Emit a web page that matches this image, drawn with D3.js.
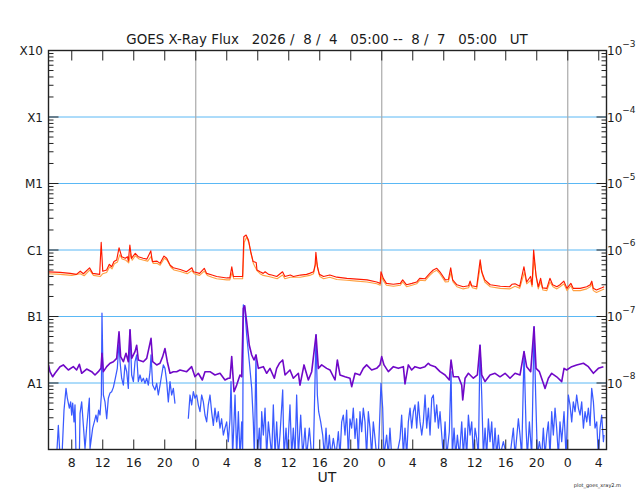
<!DOCTYPE html>
<html>
<head>
<meta charset="utf-8">
<script src="https://cdn.jsdelivr.net/npm/d3@7"></script>
<style>
    body { margin: 0; background: #fff; }
    text { font-family: "DejaVu Sans", Verdana, sans-serif; fill: #1a1a1a; }
</style>
</head>
<body>
<svg width="640" height="500"></svg>
<script>
// [hours since 2026-08-04 05:00 UT, flux W/m2]
var longPrimary = [[0.0,4.7e-7],[1.5,4.6e-7],[2.8,4.45e-7],[3.6,4.3e-7],[4.1,4.8e-7],[4.5,4.4e-7],[5.3,5.4e-7],[5.7,4.45e-7],[6.6,4.3e-7],[6.8,1.3e-6],[7.0,4.8e-7],[7.5,5.0e-7],[7.85,6.1e-7],[8.15,5.6e-7],[8.45,6.7e-7],[8.8,7.1e-7],[9.1,1.08e-6],[9.45,7.9e-7],[9.9,7.5e-7],[10.2,7.9e-7],[10.3,6.8e-7],[10.5,1.19e-6],[10.7,7.5e-7],[11.2,8.9e-7],[11.6,7.9e-7],[12.2,7.5e-7],[12.7,7.3e-7],[13.2,9.7e-7],[13.4,6.7e-7],[14.0,6.8e-7],[14.4,6.3e-7],[14.9,8.1e-7],[15.25,7.5e-7],[15.7,5.9e-7],[16.1,5.4e-7],[17.0,5.1e-7],[17.8,4.7e-7],[18.5,5.4e-7],[18.7,4.7e-7],[19.5,4.45e-7],[20.1,5.3e-7],[20.4,4.45e-7],[21.1,4.2e-7],[21.7,4.0e-7],[23.0,3.8e-7],[23.4,3.8e-7],[23.65,5.6e-7],[23.85,4.0e-7],[24.7,4.0e-7],[25.05,4.0e-7],[25.2,1.58e-6],[25.5,1.68e-6],[25.8,1.41e-6],[26.1,9.4e-7],[26.4,6.7e-7],[26.8,6.5e-7],[26.9,5.0e-7],[27.3,4.7e-7],[27.7,4.45e-7],[27.95,4.7e-7],[28.4,4.3e-7],[28.8,4.2e-7],[29.45,4.0e-7],[30.2,4.7e-7],[30.5,4.0e-7],[31.2,4.2e-7],[31.6,4.0e-7],[32.5,4.2e-7],[33.3,4.3e-7],[33.7,4.45e-7],[34.2,4.7e-7],[34.4,5.9e-7],[34.5,9.2e-7],[34.7,5.6e-7],[34.95,4.3e-7],[35.5,4.0e-7],[36.3,4.2e-7],[37.2,3.9e-7],[38.5,3.75e-7],[39.8,3.65e-7],[41.1,3.55e-7],[42.35,3.3e-7],[42.8,3.15e-7],[42.9,4.7e-7],[43.2,3.75e-7],[43.6,3.15e-7],[44.5,3.05e-7],[45.4,3.15e-7],[45.7,3.55e-7],[46.2,3.0e-7],[46.9,3.15e-7],[47.5,3.3e-7],[47.9,3.75e-7],[48.6,3.7e-7],[49.2,4.45e-7],[49.65,5.0e-7],[50.1,5.3e-7],[50.5,4.7e-7],[51.2,3.55e-7],[51.6,3.6e-7],[51.9,5.4e-7],[52.15,3.55e-7],[52.7,3.0e-7],[53.5,2.8e-7],[54.2,2.9e-7],[54.4,3.4e-7],[54.6,2.9e-7],[55.25,2.8e-7],[55.7,7.1e-7],[55.9,4.7e-7],[56.3,3.55e-7],[57.0,3.0e-7],[58.3,2.85e-7],[59.5,2.8e-7],[59.8,3.05e-7],[60.2,3.1e-7],[60.8,2.85e-7],[61.35,5.6e-7],[61.7,3.3e-7],[62.2,4.0e-7],[62.4,3.0e-7],[62.6,1.0e-6],[62.9,4.2e-7],[63.2,2.8e-7],[63.5,3.75e-7],[63.75,2.7e-7],[64.3,2.65e-7],[64.7,3.75e-7],[65.05,3.0e-7],[65.6,2.8e-7],[66.0,3.0e-7],[66.5,3.4e-7],[66.9,2.65e-7],[67.4,3.15e-7],[67.7,2.65e-7],[68.6,2.65e-7],[69.45,2.8e-7],[69.9,3.0e-7],[70.1,3.4e-7],[70.3,2.65e-7],[70.7,2.5e-7],[71.4,2.7e-7],[71.7,2.8e-7]];

var longSecondary = [[0.0,4.4e-7],[1.5,4.3e-7],[3.0,4.15e-7],[4.1,4.4e-7],[4.6,4.1e-7],[5.3,5.0e-7],[5.8,4.15e-7],[6.7,4.0e-7],[7.0,4.4e-7],[7.5,4.6e-7],[7.9,5.6e-7],[8.2,5.2e-7],[8.5,6.2e-7],[8.9,6.6e-7],[9.2,8.5e-7],[9.5,7.3e-7],[10.0,7.0e-7],[10.35,6.4e-7],[10.6,8.8e-7],[10.8,7.0e-7],[11.2,8.2e-7],[11.7,7.3e-7],[12.3,7.0e-7],[12.8,6.8e-7],[13.25,8.0e-7],[13.5,6.3e-7],[14.0,6.3e-7],[14.4,5.9e-7],[14.95,7.5e-7],[15.3,7.0e-7],[15.8,5.5e-7],[16.2,5.0e-7],[17.0,4.75e-7],[17.9,4.4e-7],[18.5,4.9e-7],[18.8,4.4e-7],[19.5,4.15e-7],[20.1,4.8e-7],[20.5,4.15e-7],[21.1,3.9e-7],[21.7,3.7e-7],[23.0,3.55e-7],[23.4,3.55e-7],[23.7,4.6e-7],[23.9,3.7e-7],[25.05,3.7e-7],[25.25,1.3e-6],[25.55,1.55e-6],[25.85,1.3e-6],[26.15,8.6e-7],[26.45,6.2e-7],[26.9,4.9e-7],[27.3,4.4e-7],[27.7,4.15e-7],[28.4,4.0e-7],[28.8,3.9e-7],[29.5,3.7e-7],[30.2,4.2e-7],[30.5,3.7e-7],[31.2,3.9e-7],[32.5,3.9e-7],[33.7,4.15e-7],[34.2,4.4e-7],[34.55,7.0e-7],[34.8,4.9e-7],[35.0,4.0e-7],[35.5,3.7e-7],[36.3,3.9e-7],[37.2,3.6e-7],[38.5,3.5e-7],[39.8,3.4e-7],[41.1,3.3e-7],[42.35,3.1e-7],[42.8,2.95e-7],[42.95,4.0e-7],[43.3,3.3e-7],[43.6,2.95e-7],[44.5,2.85e-7],[45.4,2.95e-7],[45.7,3.3e-7],[46.2,2.8e-7],[46.9,2.95e-7],[47.5,3.1e-7],[47.9,3.5e-7],[48.6,3.45e-7],[49.2,4.15e-7],[49.65,4.65e-7],[50.1,4.95e-7],[50.5,4.4e-7],[51.2,3.3e-7],[51.6,3.35e-7],[51.95,4.6e-7],[52.2,3.3e-7],[52.7,2.8e-7],[53.5,2.6e-7],[54.2,2.7e-7],[54.45,3.1e-7],[54.7,2.7e-7],[55.25,2.6e-7],[55.75,6.0e-7],[56.0,4.2e-7],[56.3,3.3e-7],[57.0,2.8e-7],[58.3,2.65e-7],[59.5,2.6e-7],[60.2,2.85e-7],[60.8,2.65e-7],[61.4,4.6e-7],[61.7,3.1e-7],[62.2,3.5e-7],[62.4,2.8e-7],[62.65,7.5e-7],[62.95,3.8e-7],[63.2,2.6e-7],[63.5,3.3e-7],[63.8,2.5e-7],[64.3,2.45e-7],[64.7,3.3e-7],[65.1,2.8e-7],[65.6,2.6e-7],[66.0,2.8e-7],[66.5,3.1e-7],[66.9,2.45e-7],[67.4,2.9e-7],[67.7,2.45e-7],[68.6,2.45e-7],[69.45,2.6e-7],[69.9,2.8e-7],[70.1,3.1e-7],[70.3,2.45e-7],[70.7,2.3e-7],[71.4,2.5e-7],[71.7,2.6e-7]];

var shortPrimary = [[0.0,1.87e-8],[0.19,1.48e-8],[0.54,1.24e-8],[0.84,1.4e-8],[1.48,1.76e-8],[1.91,1.87e-8],[2.56,1.57e-8],[3.2,1.76e-8],[3.63,1.57e-8],[3.98,1.91e-8],[4.28,1.4e-8],[4.92,1.62e-8],[5.57,1.48e-8],[6.0,1.32e-8],[6.43,1.48e-8],[6.77,1.66e-8],[6.9,2.8e-8],[7.08,1.48e-8],[7.51,1.76e-8],[7.94,1.98e-8],[8.37,2.09e-8],[8.8,2.35e-8],[9.1,5.9e-8],[9.31,2.49e-8],[9.66,2.09e-8],[10.0,2.8e-8],[10.3,2.09e-8],[10.52,6.3e-8],[10.73,2.35e-8],[11.16,2.96e-8],[11.38,3.7e-8],[11.59,2.22e-8],[12.24,2.09e-8],[12.67,2.35e-8],[13.23,4.7e-8],[13.44,2.09e-8],[13.96,1.87e-8],[14.39,1.98e-8],[14.73,2.49e-8],[15.03,3.3e-8],[15.33,2.09e-8],[15.68,1.4e-8],[16.11,1.48e-8],[16.54,1.48e-8],[16.97,1.57e-8],[17.83,1.48e-8],[18.47,1.76e-8],[18.9,1.24e-8],[19.33,1.4e-8],[19.85,1.11e-8],[20.19,1.48e-8],[20.84,1.48e-8],[21.48,1.32e-8],[22.13,1.4e-8],[22.77,1.11e-8],[23.2,1.18e-8],[23.42,1.18e-8],[23.64,2.49e-8],[23.94,0.74e-8],[24.28,0.93e-8],[24.71,1.32e-8],[24.93,1.24e-8],[25.14,1.33e-7],[25.31,1.45e-7],[25.57,8.3e-8],[25.91,3.7e-8],[26.22,2.64e-8],[26.52,2.22e-8],[26.77,2.64e-8],[27.08,1.66e-8],[27.72,1.76e-8],[28.15,1.4e-8],[28.58,1.66e-8],[29.14,1.18e-8],[29.44,1.66e-8],[29.79,1.98e-8],[30.22,2.22e-8],[30.52,1.32e-8],[31.16,1.57e-8],[31.59,1.18e-8],[32.24,1.4e-8],[32.45,0.93e-8],[32.97,1.87e-8],[33.53,1.11e-8],[33.96,1.48e-8],[34.52,5.3e-8],[34.82,1.66e-8],[35.25,1.87e-8],[35.89,1.66e-8],[36.32,1.57e-8],[36.97,1.11e-8],[37.27,2.22e-8],[37.61,1.32e-8],[38.26,1.24e-8],[38.9,1.18e-8],[39.12,0.88e-8],[39.55,1.4e-8],[40.19,1.32e-8],[40.62,1.66e-8],[41.05,1.87e-8],[41.7,1.57e-8],[42.34,1.66e-8],[42.77,1.87e-8],[42.99,2.49e-8],[43.29,1.87e-8],[43.85,1.48e-8],[44.5,1.76e-8],[45.14,1.66e-8],[45.79,1.76e-8],[46.0,0.97e-8],[46.43,1.87e-8],[46.86,1.57e-8],[47.29,1.76e-8],[47.94,1.66e-8],[48.58,1.76e-8],[49.01,1.98e-8],[49.23,1.87e-8],[49.88,1.76e-8],[50.52,1.48e-8],[51.17,1.32e-8],[51.72,1.11e-8],[51.94,2.22e-8],[52.24,1.24e-8],[52.89,1.24e-8],[53.32,0.93e-8],[53.45,0.555e-8],[53.75,1.18e-8],[54.18,1.4e-8],[54.82,1.18e-8],[55.34,1.32e-8],[55.68,3.7e-8],[55.9,1.32e-8],[56.33,1.05e-8],[56.97,1.32e-8],[57.62,1.4e-8],[58.26,1.24e-8],[58.91,1.4e-8],[59.55,1.18e-8],[60.2,1.4e-8],[60.84,1.32e-8],[61.36,2.96e-8],[61.7,1.76e-8],[62.22,1.48e-8],[62.65,7.0e-8],[62.91,1.66e-8],[63.34,1.48e-8],[63.77,1.05e-8],[64.07,0.83e-8],[64.5,1.18e-8],[64.93,1.4e-8],[65.57,1.24e-8],[66.22,1.05e-8],[66.52,1.66e-8],[66.86,1.57e-8],[67.51,1.76e-8],[68.15,1.87e-8],[69.02,1.98e-8],[69.66,1.76e-8],[70.31,1.4e-8],[70.95,1.66e-8],[71.6,1.76e-8]];

// null marks the data gap
var shortSecondary = [[0.0,8e-10],[1.05,8e-10],[1.27,2.3e-9],[1.48,8e-10],[1.74,8e-10],[2.0,3.9e-9],[2.26,8.3e-9],[2.43,5.9e-9],[2.69,4.2e-9],[2.86,5.2e-9],[2.99,3.3e-9],[3.12,5.0e-9],[3.29,2.6e-9],[3.42,4.7e-9],[3.55,8e-10],[3.98,8e-10],[4.07,3.5e-9],[4.28,5.2e-9],[4.5,2.3e-9],[4.71,1.04e-9],[4.92,2.1e-9],[5.27,5.9e-9],[5.36,1.04e-9],[5.7,2.1e-9],[5.91,2.6e-9],[6.13,3.3e-9],[6.3,2.6e-9],[6.47,3.9e-9],[6.65,3.3e-9],[6.82,6.6e-9],[6.9,1.12e-7],[7.08,6.6e-9],[7.29,5.2e-9],[7.51,2.9e-9],[7.72,5.9e-9],[7.94,7.1e-9],[8.15,7.4e-9],[8.37,8.6e-9],[8.58,1.11e-8],[8.88,1.66e-8],[9.1,4.2e-8],[9.23,2.09e-8],[9.44,1.18e-8],[9.66,9.3e-9],[9.87,1.87e-8],[10.09,1.48e-8],[10.3,8.3e-9],[10.52,6.3e-8],[10.73,1.32e-8],[10.95,1.05e-8],[11.16,2.09e-8],[11.38,2.64e-8],[11.59,1.05e-8],[11.81,1.32e-8],[12.02,1.05e-8],[12.24,1.18e-8],[12.45,9.9e-9],[12.67,1.18e-8],[12.88,9.3e-9],[13.1,1.48e-8],[13.23,2.64e-8],[13.44,9.3e-9],[13.74,7.85e-9],[13.96,9.9e-9],[14.17,6.6e-9],[14.39,9.3e-9],[14.6,1.32e-8],[14.82,1.87e-8],[15.03,1.66e-8],[15.25,1.05e-8],[15.46,5.2e-9],[15.68,1.05e-8],[15.89,6.6e-9],[16.11,8.3e-9],[16.32,4.9e-9],[17.2,null],[18.04,2.9e-9],[18.26,6.6e-9],[18.47,4.7e-9],[18.69,7.4e-9],[18.9,5.9e-9],[19.12,6.6e-9],[19.33,4.7e-9],[19.55,3.7e-9],[19.76,6.6e-9],[19.98,5.2e-9],[20.19,3.3e-9],[20.41,2.6e-9],[20.62,4.7e-9],[20.84,6.6e-9],[21.05,3.7e-9],[21.27,2.3e-9],[21.48,4.2e-9],[21.7,2.6e-9],[21.91,3.7e-9],[22.13,2.1e-9],[22.34,2.9e-9],[22.56,1.65e-9],[22.77,2.1e-9],[22.99,2.6e-9],[23.2,1.31e-9],[23.42,2.9e-9],[23.55,1.05e-8],[23.76,8e-10],[24.07,6.6e-9],[24.28,8e-10],[24.5,3.7e-9],[24.71,8e-10],[24.93,2.6e-9],[25.05,8e-10],[25.14,1.49e-7],[25.31,1.4e-7],[25.57,5.3e-8],[25.91,2.09e-8],[26.22,8.3e-9],[26.43,2.6e-9],[26.56,8e-10],[26.77,2.64e-8],[26.95,8e-10],[27.2,2.1e-9],[27.38,8e-10],[27.51,3.7e-9],[27.72,1.65e-9],[27.94,4.2e-9],[28.15,8e-10],[28.37,2.6e-9],[28.58,1.47e-9],[28.8,8e-10],[29.01,4.7e-9],[29.23,8e-10],[29.44,2.6e-9],[29.66,8e-10],[29.87,1.65e-9],[30.22,7.85e-9],[30.39,8e-10],[30.65,2.1e-9],[30.82,8e-10],[31.16,4.7e-9],[31.38,8e-10],[31.59,2.1e-9],[31.81,8e-10],[32.02,6.6e-9],[32.24,8e-10],[32.54,3.3e-9],[32.8,8e-10],[33.1,2.1e-9],[33.31,8e-10],[33.66,2.1e-9],[33.96,8e-10],[34.17,8e-10],[34.52,5.3e-8],[34.69,6.6e-9],[34.86,3.7e-9],[35.12,2.6e-9],[35.38,1.65e-9],[35.59,8e-10],[35.81,2.1e-9],[36.02,8e-10],[36.24,1.65e-9],[36.45,8e-10],[36.75,1.47e-9],[37.1,8e-10],[37.4,1.85e-9],[37.61,8e-10],[37.83,2.6e-9],[38.04,3.3e-9],[38.26,1.65e-9],[38.47,3.9e-9],[38.69,8e-10],[38.9,2.9e-9],[39.12,2.1e-9],[39.33,4.2e-9],[39.55,1.47e-9],[39.76,2.9e-9],[39.98,8e-10],[40.19,3.7e-9],[40.41,1.85e-9],[40.62,4.2e-9],[40.84,2.6e-9],[41.05,8e-10],[41.27,3.7e-9],[41.48,2.1e-9],[41.7,8e-10],[41.91,2.6e-9],[42.13,1.47e-9],[42.34,8e-10],[42.56,8e-10],[42.9,9.9e-9],[43.12,4.2e-9],[43.29,8e-10],[43.63,1.65e-9],[43.85,8e-10],[44.06,2.1e-9],[44.28,8e-10],[44.93,8e-10],[45.36,1.47e-9],[45.57,3.3e-9],[45.79,8e-10],[46.0,2.1e-9],[46.22,8e-10],[46.43,2.6e-9],[46.65,4.2e-9],[46.86,2.1e-9],[47.08,3.7e-9],[47.29,4.7e-9],[47.51,2.1e-9],[47.72,5.2e-9],[47.94,2.6e-9],[48.16,1.65e-9],[48.37,2.6e-9],[48.59,6.6e-9],[48.8,2.1e-9],[49.02,4.2e-9],[49.23,1.65e-9],[49.45,5.9e-9],[49.66,6.6e-9],[49.88,2.6e-9],[50.09,4.7e-9],[50.31,2.1e-9],[50.52,3.7e-9],[50.74,1.65e-9],[50.95,8e-10],[51.17,2.6e-9],[51.38,8e-10],[51.72,1.85e-9],[51.94,1.48e-8],[52.11,8e-10],[52.33,2.1e-9],[52.54,8e-10],[52.76,1.65e-9],[53.02,8e-10],[53.32,2.6e-9],[53.53,8e-10],[53.75,2.1e-9],[53.96,8e-10],[54.18,3.3e-9],[54.39,1.65e-9],[54.61,2.6e-9],[54.82,8e-10],[55.04,2.1e-9],[55.25,1.47e-9],[55.47,8e-10],[55.68,3.7e-8],[55.9,6.6e-9],[56.11,8e-10],[56.33,2.1e-9],[56.54,8e-10],[56.76,2.9e-9],[56.97,1.31e-9],[57.19,2.6e-9],[57.4,8e-10],[57.62,2.1e-9],[57.83,8e-10],[58.05,1.65e-9],[58.26,8e-10],[58.69,1.31e-9],[59.12,8e-10],[59.55,8e-10],[59.98,2.1e-9],[60.2,8e-10],[60.63,2.9e-9],[60.84,1.65e-9],[61.06,8e-10],[61.36,2.96e-8],[61.62,2.1e-9],[61.79,8e-10],[62.05,2.6e-9],[62.35,8e-10],[62.65,7.0e-8],[62.86,6.6e-9],[63.08,8e-10],[63.34,1.31e-9],[63.64,8e-10],[63.85,2.1e-9],[64.07,8e-10],[64.28,1.65e-9],[64.5,2.6e-9],[64.71,8e-10],[64.93,3.7e-9],[65.14,1.65e-9],[65.36,4.2e-9],[65.57,2.1e-9],[65.79,8e-10],[66.0,2.6e-9],[66.22,1.31e-9],[66.52,3.7e-9],[66.78,8e-10],[67.08,6.6e-9],[67.29,4.7e-9],[67.51,2.6e-9],[67.72,5.2e-9],[67.94,3.7e-9],[68.15,6.6e-9],[68.37,4.2e-9],[68.59,3.3e-9],[68.8,5.2e-9],[69.02,2.1e-9],[69.23,3.7e-9],[69.45,2.6e-9],[69.66,4.2e-9],[69.88,2.3e-9],[70.09,8.3e-9],[70.31,5.2e-9],[70.52,2.1e-9],[70.74,2.6e-9],[70.95,8e-10],[71.17,2.1e-9],[71.38,3.3e-9],[71.6,1.31e-9],[71.68,1.65e-9]];

var flareClasses = ["X10", "X1", "M1", "C1", "B1", "A1"];
var decades = [1e-3, 1e-4, 1e-5, 1e-6, 1e-7, 1e-8];
var decadeExponents = ["\u22123", "\u22124", "\u22125", "\u22126", "\u22127", "\u22128"];
var startTime = Date.UTC(2026, 7, 4, 5, 0);
var endTime = Date.UTC(2026, 7, 7, 5, 0);
var titleText = "GOES X-Ray Flux   2026 /  8 /  4   05:00 --  8 /  7   05:00   UT";

var goesPlot = function() {
    var plot = {};
    plot.left = 48.5;
    plot.right = 606.5;
    plot.top = 50.5;
    plot.bottom = 449.5;

    var svg = d3.select("svg");
    var x = d3.scaleUtc().domain([new Date(startTime), new Date(endTime)]).range([plot.left, plot.right]);
    var y = d3.scaleLog().domain([1e-9, 1e-3]).range([plot.bottom, plot.top]);

    function toDate(h) {
        return new Date(startTime + h * 3600e3);
    }

    plot.init = function() {
        svg.append("defs").append("clipPath").attr("id", "plot-clip")
            .append("rect")
            .attr("x", plot.left).attr("y", plot.top)
            .attr("width", plot.right - plot.left).attr("height", plot.bottom - plot.top);

        drawGrid();
        drawSeries(shortSecondary, "#3a5aff", 1.25);
        drawSeries(shortPrimary, "#7008c8", 1.6);
        drawSeries(longSecondary, "#ffa040", 1.1);
        drawSeries(longPrimary, "#ff1a00", 1.15);
        drawFrame();
        drawLabels();
    };

    function drawGrid() {
        svg.append("g").selectAll("line").data(decades.slice(1)).join("line")
            .attr("x1", plot.left).attr("x2", plot.right)
            .attr("y1", function(d) { return y(d); }).attr("y2", function(d) { return y(d); })
            .attr("stroke", "#5ab8f5").attr("stroke-width", 1);

        var midnights = d3.utcDay.range(new Date(startTime), new Date(endTime));
        svg.append("g").selectAll("line").data(midnights).join("line")
            .attr("x1", function(d) { return x(d); }).attr("x2", function(d) { return x(d); })
            .attr("y1", plot.top).attr("y2", plot.bottom)
            .attr("stroke", "#aaa").attr("stroke-width", 1.2);
    }

    function drawSeries(data, color, width) {
        var line = d3.line()
            .defined(function(d) { return d[1] != null; })
            .x(function(d) { return x(toDate(d[0])); })
            .y(function(d) { return y(d[1]); });

        svg.append("path")
            .datum(data)
            .attr("clip-path", "url(#plot-clip)")
            .attr("fill", "none")
            .attr("stroke", color)
            .attr("stroke-width", width)
            .attr("stroke-linejoin", "round")
            .attr("d", line);
    }

    function drawFrame() {
        var hourTicks = x.ticks(d3.utcHour.every(4));

        // y ticks: majors at decades, minors at 2..9
        var minor = [];
        d3.range(-9, -3).forEach(function(e) {
            d3.range(2, 10).forEach(function(m) { minor.push(m * Math.pow(10, e)); });
        });

        var g = svg.append("g").attr("stroke", "#222").attr("stroke-width", 1);

        g.selectAll(".ytick").data(minor.concat(decades)).join("line")
            .attr("x1", plot.left).attr("y1", function(d) { return y(d); })
            .attr("x2", function(d) { return plot.left + (decades.indexOf(d) >= 0 ? 10 : 5); })
            .attr("y2", function(d) { return y(d); });
        g.selectAll(".ytickr").data(minor.concat(decades)).join("line")
            .attr("x1", plot.right).attr("y1", function(d) { return y(d); })
            .attr("x2", function(d) { return plot.right - (decades.indexOf(d) >= 0 ? 10 : 5); })
            .attr("y2", function(d) { return y(d); });

        hourTicks.forEach(function(t) {
            g.append("line").attr("x1", x(t)).attr("x2", x(t)).attr("y1", plot.top).attr("y2", plot.top + 10);
            g.append("line").attr("x1", x(t)).attr("x2", x(t)).attr("y1", plot.bottom).attr("y2", plot.bottom - 10);
        });

        g.append("rect")
            .attr("x", plot.left).attr("y", plot.top)
            .attr("width", plot.right - plot.left).attr("height", plot.bottom - plot.top)
            .attr("fill", "none").attr("stroke-width", 1.4);

        svg.append("g").selectAll("text").data(hourTicks).join("text")
            .attr("x", function(d) { return x(d); })
            .attr("y", 467)
            .attr("text-anchor", "middle")
            .style("font-size", "12.5px")
            .text(d3.utcFormat("%-H"));
    }

    function drawLabels() {
        svg.append("text")
            .attr("x", 327).attr("y", 44)
            .attr("text-anchor", "middle")
            .attr("xml:space", "preserve")
            .style("white-space", "pre")
            .style("font-size", "13.4px")
            .text(titleText);

        svg.append("g").selectAll("text").data(flareClasses).join("text")
            .attr("x", 43)
            .attr("y", function(d, i) { return y(decades[i]) + 4.5; })
            .attr("text-anchor", "end")
            .style("font-size", "12px")
            .text(function(d) { return d; });

        var right = svg.append("g").selectAll("text").data(decades).join("text")
            .attr("x", 607)
            .attr("y", function(d) { return y(d) + 4.5; })
            .style("font-size", "12px");
        right.append("tspan").text("10");
        right.append("tspan")
            .attr("dy", -8.5)
            .style("font-size", "9px")
            .text(function(d, i) { return decadeExponents[i]; });

        svg.append("text")
            .attr("x", 327).attr("y", 482)
            .attr("text-anchor", "middle")
            .style("font-size", "14px")
            .text("UT");

        svg.append("text")
            .attr("x", 621).attr("y", 487)
            .attr("text-anchor", "end")
            .style("font-size", "5px")
            .text("plot_goes_xray2.m");
    }

    return plot;
}();

goesPlot.init();
</script>
</body>
</html>
